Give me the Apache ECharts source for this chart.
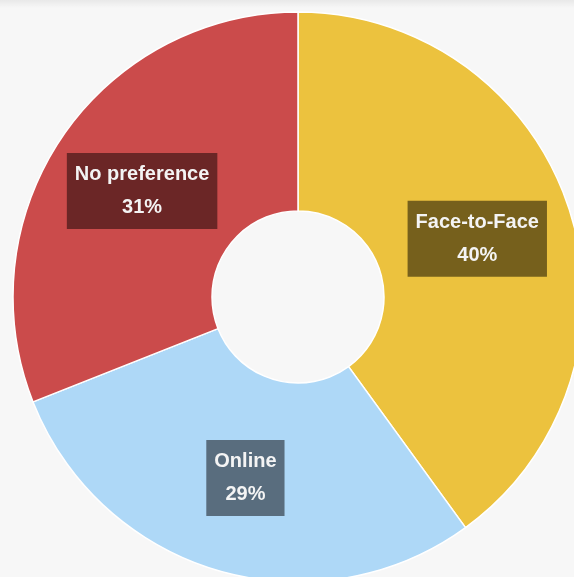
<!DOCTYPE html>
<html>
<head>
<meta charset="utf-8">
<style>
html,body{margin:0;padding:0;background:#f7f7f7;}
#chart{width:574px;height:577px;}
</style>
<script src="https://cdn.jsdelivr.net/npm/echarts@6/dist/echarts.min.js"></script>
</head>
<body>
<div id="chart"></div>
<script>
const categories = ['Face-to-Face', 'Online', 'No preference'];
const values = [40, 29, 31];
const sliceColors = ['#ECC23E', '#AED8F7', '#CB4B4B'];
const labelColors = ['#76601C', '#596D7E', '#6B2626'];

const chart = echarts.init(document.getElementById('chart'));
chart.setOption({
  backgroundColor: '#f7f7f7',
  animation: false,
  graphic: [{
    type: 'rect', left: 0, top: 0, shape: {width: 574, height: 8}, silent: true,
    style: {fill: new echarts.graphic.LinearGradient(0, 0, 0, 1, [
      {offset: 0, color: 'rgba(0,0,0,0.06)'}, {offset: 1, color: 'rgba(0,0,0,0)'}])}
  }],
  series: [{
    type: 'pie',
    center: [298, 297],
    radius: [86, 285],
    startAngle: 90,
    clockwise: true,
    avoidLabelOverlap: false,
    itemStyle: {borderColor: '#ffffff', borderWidth: 1.5},
    label: {
      show: true,
      position: 'inside',
      formatter: '{b}\n{d}%',
      color: '#f4f4f4',
      fontFamily: 'Liberation Sans, Arial, sans-serif',
      fontWeight: 'bold',
      fontSize: 20,
      lineHeight: 33,
      padding: [6, 8, 4, 8],
      align: 'center'
    },
    labelLine: {show: false},
    emphasis: {disabled: true},
    data: categories.map((c, i) => ({
      name: c,
      value: values[i],
      itemStyle: {color: sliceColors[i]},
      label: {backgroundColor: labelColors[i]}
    }))
  }]
});
</script>
</body>
</html>
